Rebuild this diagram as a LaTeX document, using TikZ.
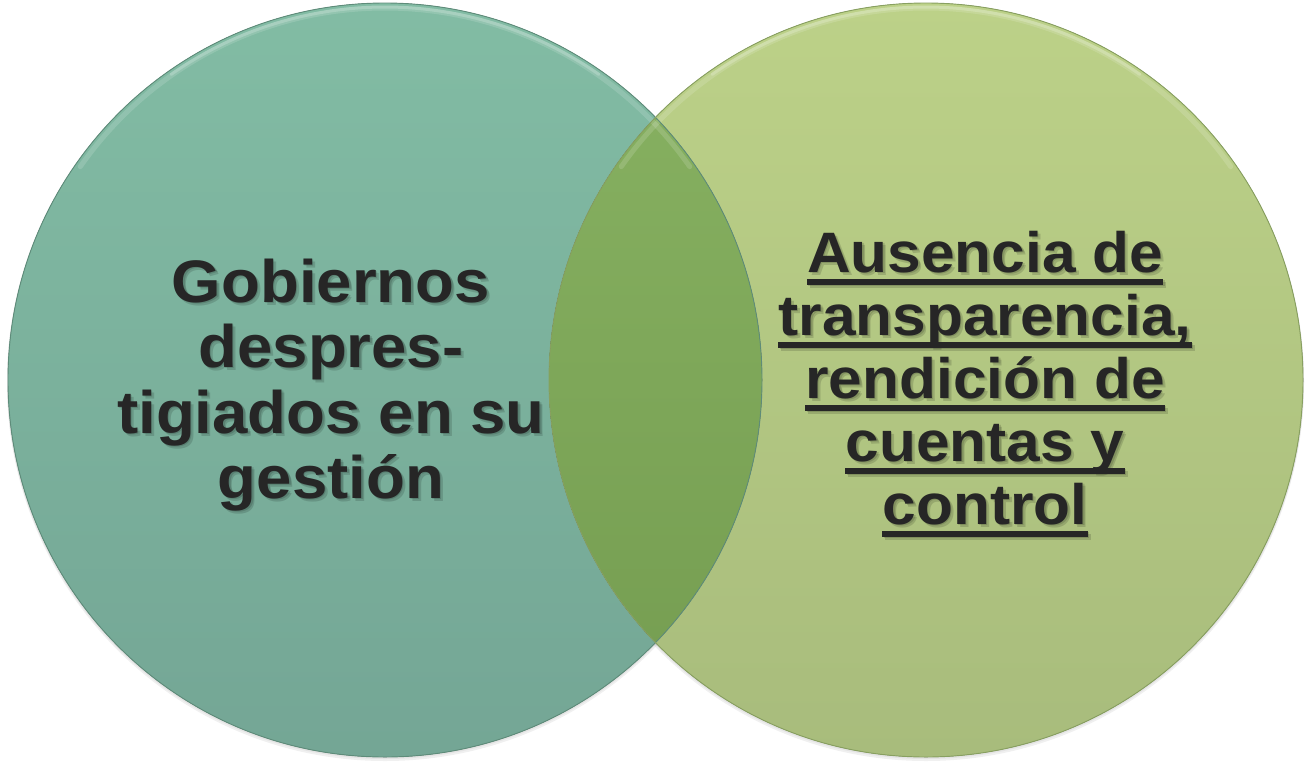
\documentclass[tikz,border=0pt]{standalone}
\usepackage{fontspec}
\setmainfont{Liberation Sans}
\newfontfamily\widefont[FakeStretch=1.06]{Liberation Sans}
\definecolor{textc}{HTML}{262626}
\definecolor{ltop}{HTML}{82BCA4}
\definecolor{lbot}{HTML}{74A695}
\definecolor{ledge}{HTML}{5E8C7A}
\definecolor{rtop}{HTML}{BCD188}
\definecolor{rbot}{HTML}{A8BC7C}
\definecolor{redge}{HTML}{88A060}
\definecolor{otop}{HTML}{88B262}
\definecolor{obot}{HTML}{749C50}
\begin{document}
\begin{tikzpicture}[x=1pt,y=-1pt,
  txt/.style={text=textc, inner sep=0pt, anchor=base},
  shd/.style={text=black, opacity=0.14, inner sep=0pt, anchor=base},
  lfont/.style={font=\widefont\bfseries\fontsize{60}{64}\selectfont},
  rfont/.style={font=\widefont\bfseries\fontsize{57}{63}\selectfont},
  uline/.style={fill=textc},
  ushd/.style={fill=black, opacity=0.14},
  rim/.style={white, line cap=round}]
\useasboundingbox (0,0) rectangle (1307,764);
\newcommand\TLine[5]{%
  \node[shd,#5] at (#2+1.5,#3+1.5) {#4};
  \node[shd,#5] at (#2+3,#3+3) {#4};
  \node[txt,#5] (#1) at (#2,#3) {#4};}
\newcommand\ULine[1]{%
  \fill[ushd] ([shift={(1.5pt,-8pt)}]#1.base west) rectangle ([shift={(1.5pt,-14pt)}]#1.base east);
  \fill[ushd] ([shift={(3pt,-9.5pt)}]#1.base west) rectangle ([shift={(3pt,-15.5pt)}]#1.base east);
  \fill[uline] ([yshift=-6.5pt]#1.base west) rectangle ([yshift=-12.5pt]#1.base east);}
% soft shadows under circles
\fill[black,opacity=0.06] (385,383) circle (378);
\fill[black,opacity=0.06] (926,383) circle (378);
\fill[black,opacity=0.05] (385,381) circle (378);
\fill[black,opacity=0.05] (926,381) circle (378);
% circles
\fill[top color=ltop, bottom color=lbot] (385,380) circle (377);
\fill[top color=rtop, bottom color=rbot] (926,380) circle (377);
\begin{scope}
  \clip (385,380) circle (377);
  \fill[top color=otop, bottom color=obot] (926,380) circle (377);
\end{scope}
% rim highlights
\draw[rim, opacity=0.14, line width=5] (385,380) ++(-145:372) arc[start angle=-145, end angle=-35, radius=372];
\draw[rim, opacity=0.2, line width=3] (385,380) ++(-125:373) arc[start angle=-125, end angle=-55, radius=373];
\draw[rim, opacity=0.14, line width=5] (926,380) ++(-145:372) arc[start angle=-145, end angle=-35, radius=372];
\draw[rim, opacity=0.2, line width=3] (926,380) ++(-125:373) arc[start angle=-125, end angle=-55, radius=373];
% edges
\draw[ledge, line width=0.9] (385,380) circle (377);
\draw[redge, line width=0.9] (926,380) circle (377);
% left text
\TLine{l1}{331}{302}{Gobiernos}{lfont}
\TLine{l2}{331}{367}{despres-}{lfont}
\TLine{l3}{331}{433}{tigiados en su}{lfont}
\TLine{l4}{331}{498}{gestión}{lfont}
% right text
\TLine{r1}{985}{272}{Ausencia de}{rfont}
\TLine{r2}{985}{335}{transparencia,}{rfont}
\TLine{r3}{985}{398}{rendición de}{rfont}
\TLine{r4}{985}{461}{cuentas y}{rfont}
\TLine{r5}{985}{524}{control}{rfont}
\ULine{r1}\ULine{r2}\ULine{r3}\ULine{r4}\ULine{r5}
\end{tikzpicture}
\end{document}
